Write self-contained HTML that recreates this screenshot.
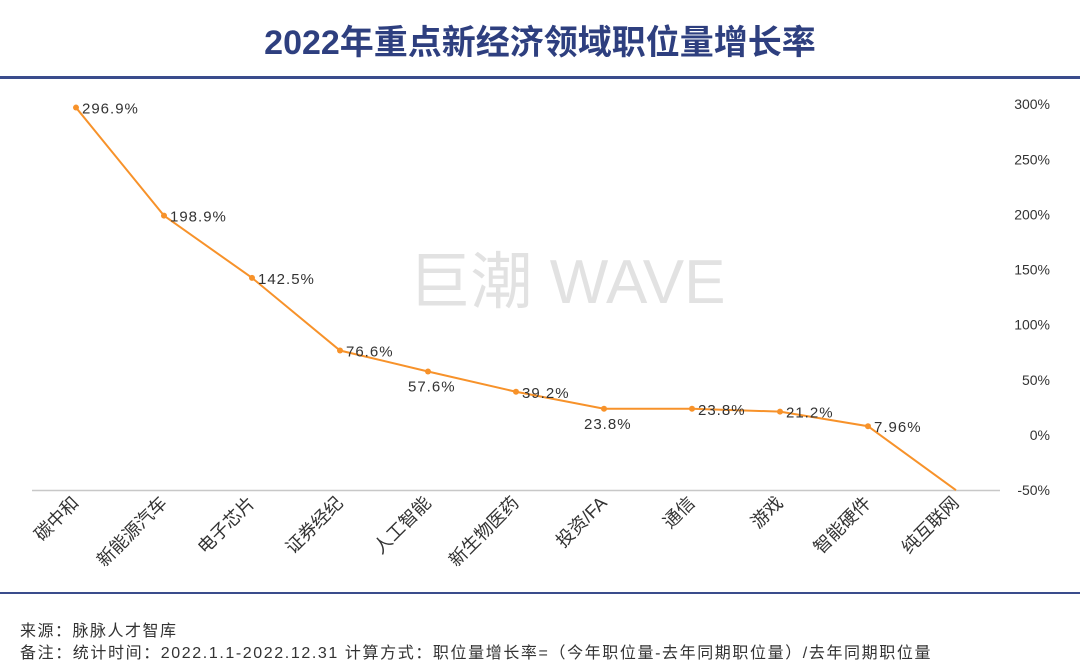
<!DOCTYPE html>
<html><head><meta charset="utf-8">
<style>
body{margin:0;background:#fff;}
svg text{font-family:"Liberation Sans","Noto Sans CJK SC",sans-serif;}
</style></head>
<body>
<svg id="c" width="1080" height="665" viewBox="0 0 1080 665" xmlns="http://www.w3.org/2000/svg">
<text x="540" y="54" text-anchor="middle" font-size="34" font-weight="bold" fill="#2e3f7f">2022年重点新经济领域职位量增长率</text>
<rect x="0" y="76" width="1080" height="3" fill="#3a4c8c"/>
<rect x="0" y="592" width="1080" height="2" fill="#3a4c8c"/>
<text x="567" y="303" text-anchor="middle" font-size="62" fill="#e2e2e2">巨潮 WAVE</text>
<line x1="32" y1="490.5" x2="1000" y2="490.5" stroke="#c8c8c8" stroke-width="1.5"/>
<g id="yt"></g><g id="xl"></g><g id="ln"></g>
<text x="20" y="636" font-size="16" letter-spacing="1.5" fill="#333">来源：脉脉人才智库</text>
<text x="20" y="658" font-size="16" letter-spacing="1.6" fill="#333">备注：统计时间：2022.1.1-2022.12.31 计算方式：职位量增长率=（今年职位量-去年同期职位量）/去年同期职位量</text>
</svg>
<script>
const categories=["碳中和","新能源汽车","电子芯片","证券经纪","人工智能","新生物医药","投资/FA","通信","游戏","智能硬件","纯互联网"];
const values=[296.9,198.9,142.5,76.6,57.6,39.2,23.8,23.8,21.2,7.96,-50];
const valueLabels=["296.9%","198.9%","142.5%","76.6%","57.6%","39.2%","23.8%","23.8%","21.2%","7.96%",""];
const yTicks=[300,250,200,150,100,50,0,-50];
const NS="http://www.w3.org/2000/svg";
const y=v=>435-v*(386/350);
const x=i=>76+i*88;
function mk(t,a,p){const e=document.createElementNS(NS,t);for(const k in a)e.setAttribute(k,a[k]);p.appendChild(e);return e;}
const yt=document.getElementById('yt'),xl=document.getElementById('xl'),ln=document.getElementById('ln');
yTicks.forEach(v=>{const t=mk('text',{x:1050,y:y(v)+5,'text-anchor':'end','font-size':14,fill:'#333'},yt);t.textContent=v+'%';

});
categories.forEach((c,i)=>{const t=mk('text',{x:0,y:0,'text-anchor':'end','font-size':18,fill:'#333',transform:`translate(${x(i)+4},${504}) rotate(-45)`},xl);t.textContent=c;

});
const pts=values.map((v,i)=>x(i)+','+y(v)).join(' ');
const pl=mk('polyline',{points:pts,fill:'none',stroke:'#f7922a','stroke-width':2},ln);


values.forEach((v,i)=>{if(i<values.length-1){const d=mk('circle',{cx:x(i),cy:y(v),r:3,fill:'#f7922a'},ln);

}
if(valueLabels[i]){const below=(i===4||i===6);const t=mk('text',{x:below?x(i)-20:x(i)+6,y:below?y(v)+20:y(v)+6,'font-size':15,'letter-spacing':1,fill:'#333'},ln);t.textContent=valueLabels[i];

}});
</script>
</body></html>
